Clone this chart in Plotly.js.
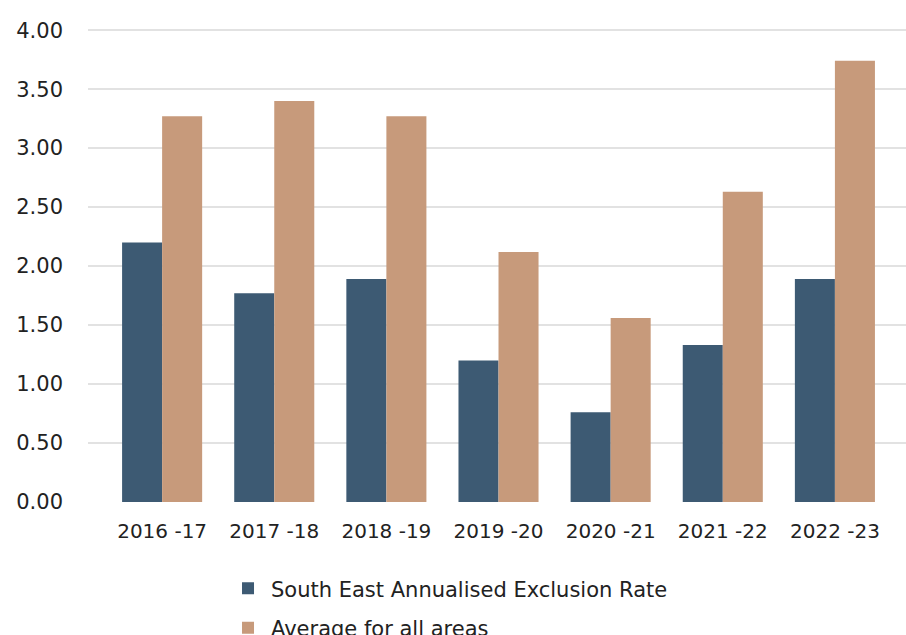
<!DOCTYPE html>
<html>
<head>
<meta charset="utf-8">
<script src="https://cdn.plot.ly/plotly-3.0.1.min.js"></script>
<style>
html,body{margin:0;padding:0;overflow:hidden;background:#fff;}
#chart{width:906px;height:660px;}
</style>
</head>
<body>
<div id="chart"></div>
<script>
const categories = ["2016 -17","2017 -18","2018 -19","2019 -20","2020 -21","2021 -22","2022 -23"];
const southEast = [2.20, 1.77, 1.89, 1.20, 0.76, 1.33, 1.89];
const allAreas = [3.27, 3.40, 3.27, 2.12, 1.56, 2.63, 3.74];
const seriesNames = ["South East Annualised Exclusion Rate", "Average for all areas"];
const yTicks = [0, 0.5, 1, 1.5, 2, 2.5, 3, 3.5, 4];

const FONT = "'DejaVu Sans', 'Noto Sans', sans-serif";

const traces = [
  {type:"bar", x:categories, y:southEast, name:seriesNames[0], legendgroup:"a",
   marker:{color:"#3d5a73"}, hoverinfo:"x+y"},
  {type:"bar", x:categories, y:allAreas, name:seriesNames[1], legendgroup:"b",
   marker:{color:"#c79a7b"}, hoverinfo:"x+y"}
];

const layout = {
  width:906, height:660,
  margin:{l:88, r:0, t:28.9, b:157.5},
  paper_bgcolor:"#ffffff", plot_bgcolor:"#ffffff",
  font:{family:FONT, size:20, color:"#222222"},
  barmode:"group", bargap:0.286, bargroupgap:0,
  xaxis:{type:"category", range:[-0.661, 6.634], showgrid:false, zeroline:false,
         showline:false, ticks:"", ticklabelstandoff:15,
         tickfont:{family:FONT, size:20, color:"#222222"}},
  yaxis:{range:[0, 4.01], tickvals:yTicks, tickformat:".2f", showgrid:true,
         gridcolor:"#e2e2e2", gridwidth:1.5, zeroline:false, showline:false,
         ticks:"", ticklabelstandoff:24,
         tickfont:{family:FONT, size:21, color:"#222222"}},
  showlegend:true,
  legend:{orientation:"v", x:0.1675, xanchor:"left", y:-0.14, yanchor:"top",
          traceorder:"grouped", tracegroupgap:9, itemwidth:36,
          font:{family:FONT, size:21, color:"#222222"}, bgcolor:"rgba(0,0,0,0)"}
};

Plotly.newPlot("chart", traces, layout, {displayModeBar:false, staticPlot:true});
</script>
</body>
</html>
